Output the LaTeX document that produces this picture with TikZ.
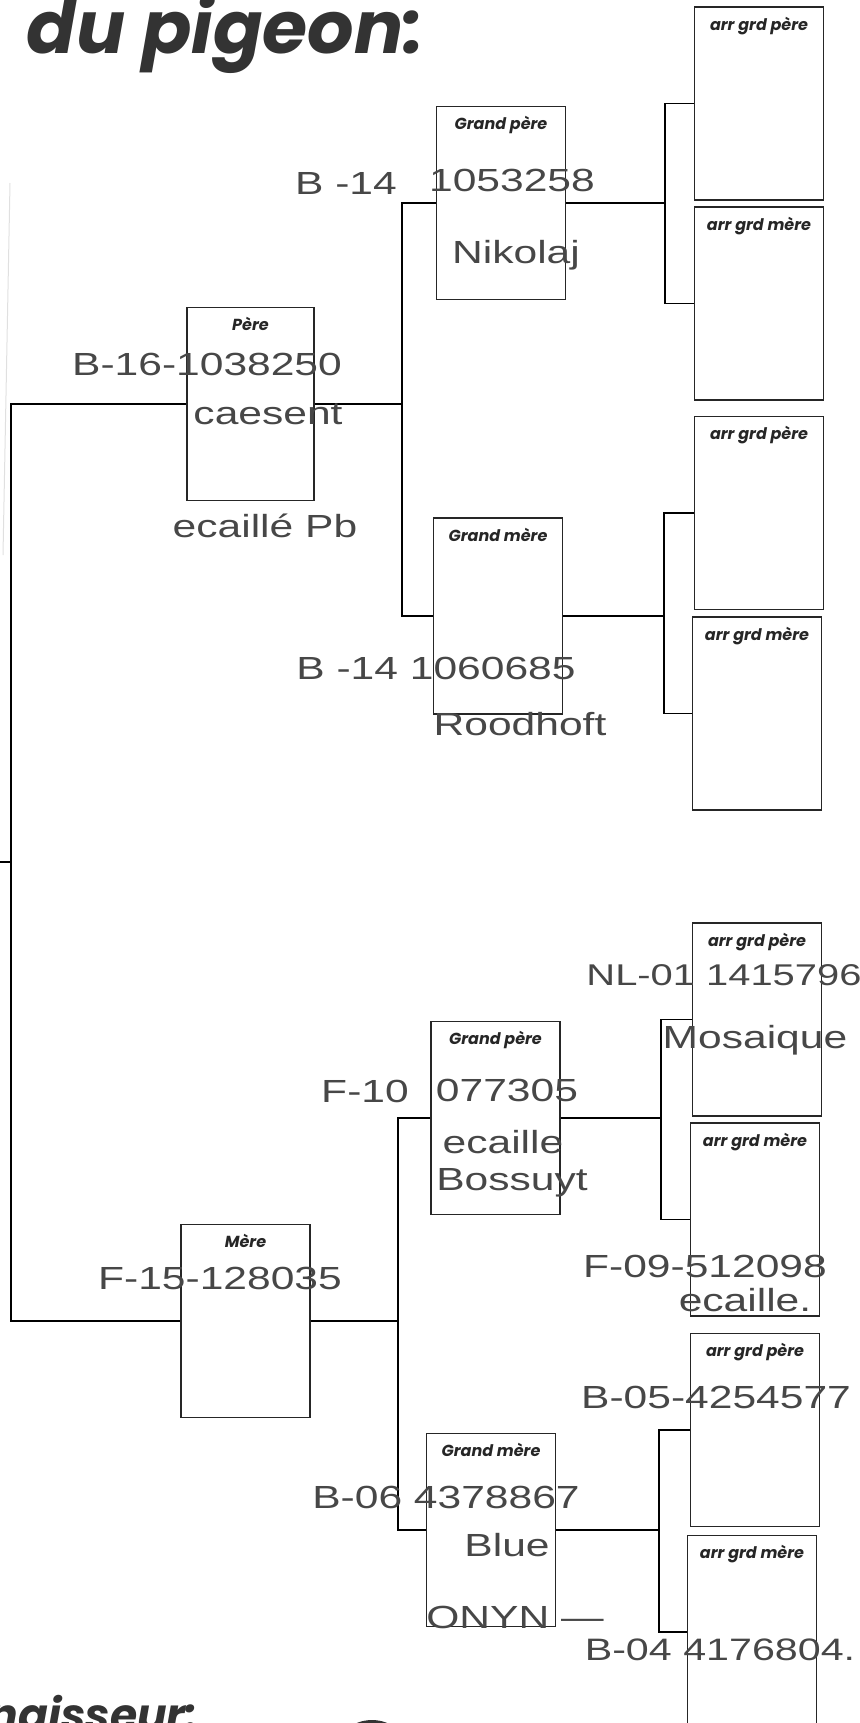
\documentclass[tikz,border=0pt]{standalone}
\usepackage{fontspec}
\setmainfont{Liberation Sans}
\newfontfamily\printfont{Poppins}
\newfontfamily\handfont[FakeStretch=1.33]{Liberation Sans}
\usetikzlibrary{positioning}

\begin{document}
\begin{tikzpicture}[
    x=1pt, y=-1pt,
    line width=1.2pt,
    card/.style={
        draw=black!85,
        minimum width=129pt,
        minimum height=193pt,
        inner sep=0pt
    },
    tag/.style={
        font=\printfont\bfseries\itshape\fontsize{16}{16}\selectfont,
        text=black!85,
        inner sep=0pt
    },
    hand/.style={
        font=\handfont\fontsize{#1}{#1}\selectfont,
        text=black!72,
        inner sep=0pt
    },
    hand/.default=32,
    heading/.style={
        font=\printfont\bfseries\itshape\fontsize{#1}{#1}\selectfont,
        text=black!80,
        inner sep=0pt
    },
    heading/.default=73
]
\useasboundingbox (0,0) rectangle (859,1723);
\clip (0,0) rectangle (859,1723);

% printed headings, both cut by the page edge
\node[heading, anchor=base west] (title) at (26,54) {du pigeon:};
\node[heading=44, anchor=base west] (breeder) at (-12,1730) {naisseur:};

% parents
\node[card, minimum width=127pt] (pere) at (250.5,404) {};
\node[card] (mere) at (245.5,1321) {};

% grandparents
\node[card] (gp1) at (501,203) {};
\node[card, minimum height=196pt] (gm1) at (498,616) {};
\node[card] (gp2) at (495.5,1118) {};
\node[card] (gm2) at (491,1530) {};

% great-grandparents
\node[card] (agp1) at (759,103.5) {};
\node[card] (agm1) at (759,303.5) {};
\node[card] (agp2) at (759,513) {};
\node[card] (agm2) at (757,713.5) {};
\node[card] (agp3) at (757,1019.5) {};
\node[card] (agm3) at (755,1219.5) {};
\node[card] (agp4) at (755,1430) {};
\node[card] (agm4) at (752,1632) {};

% box titles
\node[tag, below=24pt of pere.north, anchor=base] {Père};
\node[tag, below=24pt of mere.north, anchor=base] {Mère};
\node[tag, below=24pt of gp1.north, anchor=base] {Grand père};
\node[tag, below=24pt of gm1.north, anchor=base] {Grand mère};
\node[tag, below=24pt of gp2.north, anchor=base] {Grand père};
\node[tag, below=24pt of gm2.north, anchor=base] {Grand mère};
\foreach \b in {agp1,agp2,agp3,agp4}
    \node[tag, below=24pt of \b.north, anchor=base] {arr grd père};
\foreach \b in {agm1,agm2,agm3,agm4}
    \node[tag, below=24pt of \b.north, anchor=base] {arr grd mère};

% junctions
\coordinate (jroot) at (11,862);
\coordinate (jpere) at (402,404);
\coordinate (jmere) at (398,1321);
\coordinate (jgp1) at (665,203);
\coordinate (jgm1) at (664,616);
\coordinate (jgp2) at (661,1118);
\coordinate (jgm2) at (659,1530);

\draw (pere.west) -| (jroot) |- (mere.west);
\draw (pere.east) -- (jpere);
\draw (gp1.west) -| (jpere) |- (gm1.west);
\draw (mere.east) -- (jmere);
\draw (gp2.west) -| (jmere) |- (gm2.west);
\draw (gp1.east) -- (jgp1);
\draw (agp1.west) -| (jgp1) |- (agm1.west);
\draw (gm1.east) -- (jgm1);
\draw (agp2.west) -| (jgm1) |- (agm2.west);
\draw (gp2.east) -- (jgp2);
\draw (agp3.west) -| (jgp2) |- (agm3.west);
\draw (gm2.east) -- (jgm2);
\draw (agp4.west) -| (jgm2) |- (agm4.west);

% stray marks of the scanned sheet
\draw[black!12, line width=1pt] (10,183) -- (3,555);
\draw (0,862) -- (jroot);
\fill[black!80] (372,1752) ellipse [x radius=36pt, y radius=32pt];

% handwritten entries
\node[hand] (gp1ring) at (346,183) {B -14};
\node[hand] (gp1no) at (512,180) {1053258};
\node[hand] (gp1name) at (516,255) {Nikolaj};
\node[hand] (pereno) at (207,364) {B-16-1038250};
\node[hand] (perename) at (268,414) {caesent};
\node[hand] (perecol) at (265,526) {ecaillé Pb};
\node[hand] (gm1no) at (436,668) {B -14 1060685};
\node[hand] (gm1name) at (520,724) {Roodhoft};
\node[hand] (gp2ring) at (365,1091) {F-10};
\node[hand] (gp2no) at (507,1090) {077305};
\node[hand] (gp2col) at (503,1142) {ecaille};
\node[hand] (gp2name) at (512,1183) {Bossuyt};
\node[hand=30] (agp3no) at (724,975) {NL-01 1415796};
\node[hand] (agp3col) at (755,1040) {Mosaique};
\node[hand] (agm3no) at (705,1266) {F-09-512098};
\node[hand] (agm3col) at (745,1300) {ecaille.};
\node[hand] (agp4no) at (716,1397) {B-05-4254577};
\node[hand] (mereno) at (220,1278) {F-15-128035};
\node[hand] (gm2no) at (446,1497) {B-06 4378867};
\node[hand] (gm2col) at (507,1545) {Blue};
\node[hand] (gm2name) at (515,1617) {ONYN —};
\node[hand=31] (agm4no) at (720,1650) {B-04 4176804.};

\end{tikzpicture}
\end{document}
